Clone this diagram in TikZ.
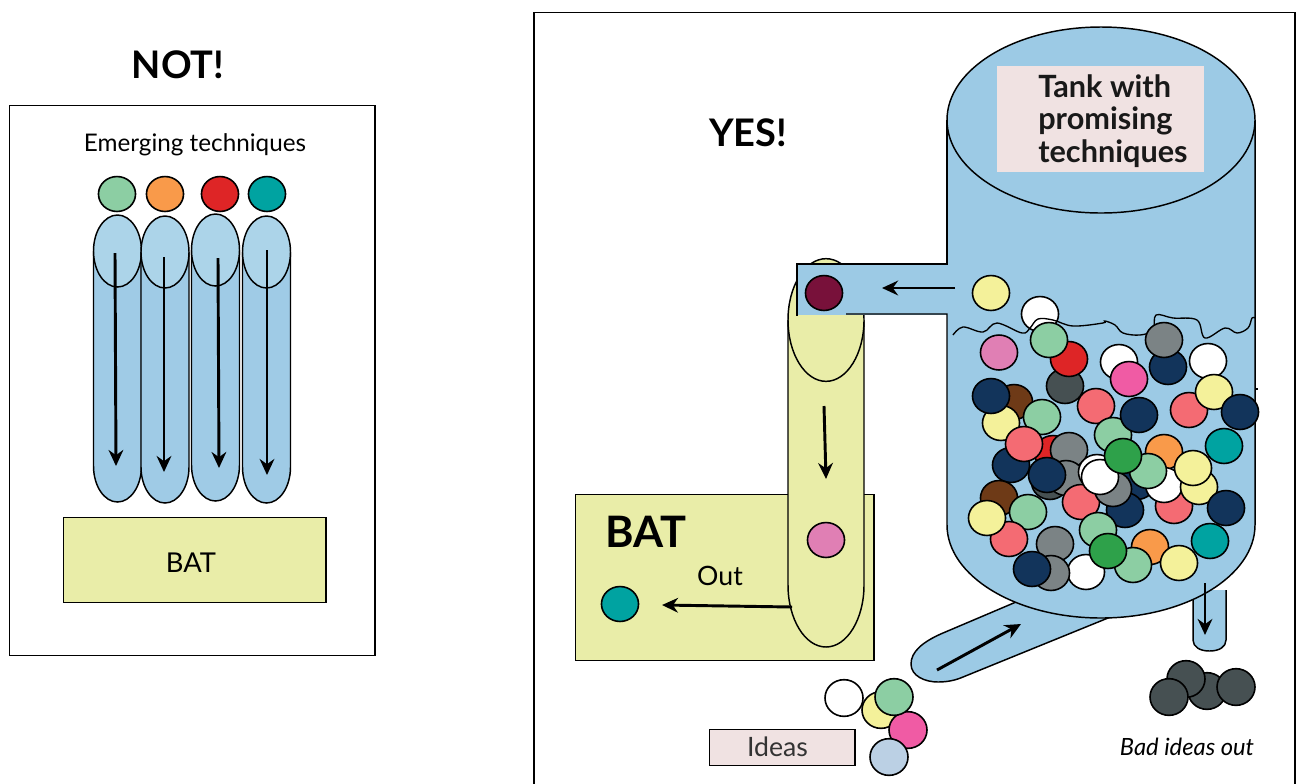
\documentclass[tikz,border=0pt]{standalone}
\usepackage{fontspec}
\setmainfont{Lato}
\usetikzlibrary{shapes.geometric,arrows.meta}
\definecolor{tankblue}{HTML}{9CCAE5}
\definecolor{tubeblue}{HTML}{9FCBE6}
\definecolor{tubetop}{HTML}{ACD4E9}
\definecolor{batyellow}{HTML}{E9EDA8}
\definecolor{labelpink}{HTML}{F0E2E2}
\definecolor{cGreen}{HTML}{8CCEA3}
\definecolor{cOrange}{HTML}{F99A4A}
\definecolor{cRed}{HTML}{DE2526}
\definecolor{cTeal}{HTML}{00A3A1}
\definecolor{cYellow}{HTML}{F4F19A}
\definecolor{cMauve}{HTML}{E07FB4}
\definecolor{cHot}{HTML}{F05BA4}
\definecolor{cNavy}{HTML}{12345B}
\definecolor{cGrey}{HTML}{7B8385}
\definecolor{cDark}{HTML}{465052}
\definecolor{cSalmon}{HTML}{F46B73}
\definecolor{cBrown}{HTML}{6E3A17}
\definecolor{cDGreen}{HTML}{2EA14A}
\definecolor{cWine}{HTML}{78113A}
\definecolor{cPale}{HTML}{BBD0E4}
\tikzset{
  x=0.75pt,y=-0.75pt,
  outline/.style={draw=black,line width=1.1pt},
  ballnode/.style={ellipse,draw=black,line width=1.2pt,inner sep=0pt,minimum width=27.8pt,minimum height=26.2pt},
  smallball/.style={ballnode,minimum width=28.5pt,minimum height=27.5pt},
  capellipse/.style={ellipse,draw=black,line width=1.1pt,inner sep=0pt},
  flowarrow/.style={draw=black,line width=2.2pt,-{Stealth[length=12pt,width=11pt]}},
  labelbox/.style={rectangle,draw=black,line width=1.1pt,inner sep=0pt},
}
\newcounter{ballno}
\newcommand{\ball}[3]{\stepcounter{ballno}\node[ballnode,fill=#3] (b\theballno) at (#1,#2) {};}
\newcommand{\sball}[3]{\stepcounter{ballno}\node[smallball,fill=#3] (b\theballno) at (#1,#2) {};}
\newcounter{arrno}
\newcommand{\flow}[4]{\stepcounter{arrno}\coordinate (a\thearrno) at (#1,#2);\coordinate (z\thearrno) at (#3,#4);\draw[flowarrow] (a\thearrno) -- (z\thearrno);}
\newcommand{\tubeU}[6]{%
  \pgfmathsetmacro{\xl}{#1-#4}\pgfmathsetmacro{\xr}{#1+#4}%
  \pgfmathsetmacro{\yb}{#3-#5}\pgfmathsetmacro{\ya}{\yb+0.5523*#5}%
  \pgfmathsetmacro{\xa}{#1-0.5523*#4}\pgfmathsetmacro{\xc}{#1+0.5523*#4}%
  \draw[outline,fill=#6] (\xl,#2) -- (\xl,\yb) .. controls (\xl,\ya) and (\xa,#3) .. (#1,#3) .. controls (\xc,#3) and (\xr,\ya) .. (\xr,\yb) -- (\xr,#2);}
\begin{document}
\begin{tikzpicture}
\useasboundingbox (0,0) rectangle (1302,783);
% ---------- left panel
\node[labelbox,fill=white,anchor=north west,minimum width=274pt,minimum height=412.5pt] (leftframe) at (9,105) {};
\node[font=\fontsize{28.5}{32}\selectfont\bfseries] (nottitle) at (178,65) {NOT!};
\node[font=\fontsize{18.2}{22}\selectfont] (emerging) at (195,145) {Emerging techniques};
\node[labelbox,fill=batyellow,anchor=north west,minimum width=196.75pt,minimum height=63.75pt] (batleft) at (63,517) {};
\node[font=\fontsize{20.5}{24}\selectfont] (batlefttext) at (191,563) {BAT};
\tubeU{117.5}{251}{502}{24}{36}{tubeblue}
\node[capellipse,fill=tubetop,minimum width=36pt,minimum height=54pt] (cap1) at (117.5,251) {};
\tubeU{165}{252}{503}{24}{36}{tubeblue}
\node[capellipse,fill=tubetop,minimum width=36pt,minimum height=54pt] (cap2) at (165,252) {};
\tubeU{215.5}{250}{501}{24}{36}{tubeblue}
\node[capellipse,fill=tubetop,minimum width=36pt,minimum height=54pt] (cap3) at (215.5,250) {};
\tubeU{266.5}{252}{503}{24}{36}{tubeblue}
\node[capellipse,fill=tubetop,minimum width=36pt,minimum height=54pt] (cap4) at (266.5,252) {};
\ball{117}{194}{cGreen}\ball{165}{194}{cOrange}\ball{220}{194}{cRed}\ball{267}{194}{cTeal}
\flow{115}{253}{116}{466}\flow{164}{257}{164}{472}\flow{218}{258}{219}{468}\flow{267}{250}{267}{475}
% ---------- right panel frame
\draw[outline] (534,790) -- (534,12.5) -- (1295,12.5) -- (1295,790);
\node[font=\fontsize{28.5}{32}\selectfont\bfseries] (yestitle) at (748,133) {YES!};
\node[labelbox,fill=batyellow,anchor=north west,minimum width=223.75pt,minimum height=124.5pt] (batright) at (575,494) {};
\node[font=\fontsize{32.5}{36}\selectfont\bfseries] (battext) at (646,532) {BAT};
\node[font=\fontsize{20}{24}\selectfont] (outtext) at (720,576) {Out};
% column
\tubeU{826}{320}{647}{38}{62}{batyellow}
\node[capellipse,fill=batyellow,minimum width=57pt,minimum height=92pt] (colcap) at (826,320) {};
\flow{792}{607}{662}{605}
\flow{824}{406}{826}{479}
\ball{826}{540}{cMauve}
\ball{620}{604}{cTeal}
% inlet and outlet tubes
\draw[outline,fill=tankblue] (1016,602) -- (943,633) .. controls (922,642) and (911,652) .. (911,664) .. controls (911,676) and (925,682) .. (938,682) .. controls (948,682) and (956,680) .. (963,677) -- (1108,618) -- cycle;
\draw[outline,fill=tankblue] (1193,590) -- (1193,640) .. controls (1193,647) and (1200,651) .. (1209.5,651) .. controls (1219,651) and (1226,647) .. (1226,640) -- (1226,590);
% tank
\fill[tankblue] (947,120) -- (947,525) .. controls (947,576) and (1016,618) .. (1101,618) .. controls (1186,618) and (1255,576) .. (1255,525) -- (1255,120) -- cycle;
\fill[tankblue] (797,264) rectangle (950,315);
\draw[outline] (947,120) -- (947,264) -- (797,264) -- (797,316);
\draw[outline] (846,314) -- (947,314) -- (947,525) .. controls (947,576) and (1016,618) .. (1101,618) .. controls (1186,618) and (1255,576) .. (1255,525) -- (1255,120);
\draw[outline] (1255,389) -- (1258,389);
\node[capellipse,fill=tankblue,minimum width=231pt,minimum height=139.5pt] (tankcap) at (1101,120) {};
\node[rectangle,fill=labelpink,inner sep=0pt,minimum width=155.25pt,minimum height=79.5pt] (tanklabel) at (1100.5,119) {};
\node[font=\fontsize{23}{24.2}\selectfont\bfseries,text=black!90,align=left] (tanktext) at (1113,121) {Tank with\\promising\\techniques};
\flow{955}{288}{882}{288}
\ball{824}{293}{cWine}
\ball{991}{293}{cYellow}
\ball{1040}{314}{white}
% water line
\draw[black,line width=1pt] plot[smooth,tension=0.6] coordinates {(953,335) (963,327) (983,332) (997,323) (1022,333) (1030,328) (1038,319) (1053,320) (1073,326) (1103,323) (1105,321) (1115,325) (1123,333) (1140,335) (1153,330) (1156,315) (1173,318) (1197,320) (1205,338) (1225,328) (1237,333) (1248,328) (1252,318) (1255,318)};
% balls in the tank
\ball{999}{352.5}{cMauve}
\ball{1065}{386}{cDark}\ball{1069}{359}{cRed}\ball{1049}{340}{cGreen}
\ball{1119}{362}{white}\ball{1129}{379}{cHot}
\ball{1168}{367}{cNavy}\ball{1164}{340}{cGrey}\ball{1208}{361}{white}
\ball{1096}{406}{cSalmon}
\ball{1113}{435}{cGreen}
\ball{1139}{415}{cNavy}
\ball{1189}{410}{cSalmon}\ball{1214}{392}{cYellow}\ball{1240}{412}{cNavy}
\ball{1014}{402}{cBrown}\ball{1042}{417}{cGreen}\ball{1001}{423}{cYellow}\ball{991}{396}{cNavy}
\ball{1224}{446}{cTeal}\ball{1164}{452}{cOrange}
\ball{1011}{465}{cNavy}\ball{1053}{453}{cRed}\ball{1024}{444}{cSalmon}
\ball{1050}{482}{cDark}\ball{1069}{450}{cGrey}\ball{1066}{478}{cGrey}\ball{1047}{475}{cNavy}
\ball{1097}{472}{white}\ball{1137}{482}{cNavy}
\ball{1174}{506}{cSalmon}
\ball{1164}{485}{white}
\ball{1081}{502}{cSalmon}
\ball{1125}{510}{cNavy}
\ball{1113}{489}{cGrey}\ball{1100}{477}{white}
\ball{1199}{487}{cYellow}\ball{1148}{471}{cGreen}\ball{1193}{468}{cYellow}\ball{1123}{456}{cDGreen}
\ball{1226}{508}{cNavy}
\ball{999}{498}{cBrown}\ball{1028}{512}{cGreen}\ball{1009}{539}{cSalmon}\ball{987}{518}{cYellow}
\ball{1098}{530}{cGreen}\ball{1210}{541}{cTeal}\ball{1150}{547}{cOrange}
\ball{1133}{565}{cGreen}\ball{1179}{563}{cYellow}
\ball{1055}{544}{cGrey}\ball{1086}{572}{white}\ball{1108}{551}{cDGreen}
\ball{1051}{573}{cGrey}\ball{1032}{569}{cNavy}
\flow{1205}{583}{1205}{635}
\flow{937}{670}{1021}{624}
% bad balls
\sball{1207}{691}{cDark}\sball{1186}{679}{cDark}\sball{1236}{687}{cDark}\sball{1169}{697}{cDark}
\node[font=\fontsize{17.8}{21}\selectfont\itshape] (badtext) at (1187,747) {Bad ideas out};
% ideas
\sball{844}{698}{white}\sball{881}{710}{cYellow}\sball{908}{730}{cHot}\sball{894}{697}{cGreen}\sball{889}{757}{cPale}
\node[labelbox,fill=labelpink,anchor=north west,minimum width=109pt,minimum height=27pt] (ideasbox) at (709,729) {};
\node[font=\fontsize{20}{24}\selectfont,text=black!80] (ideastext) at (777.5,747) {Ideas};
\end{tikzpicture}
\end{document}
